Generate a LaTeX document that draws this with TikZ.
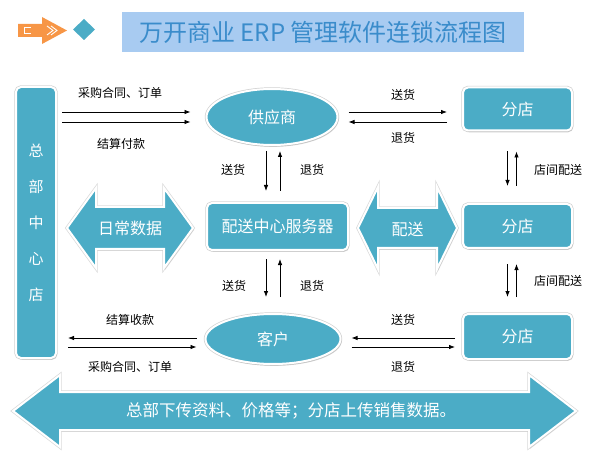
\documentclass[tikz,border=0pt]{standalone}
\usepackage{fontspec}
\setmainfont{Noto Sans CJK SC}
\usepackage{tikz}
\usetikzlibrary{calc,positioning,arrows.meta,shadows,shapes.geometric}
\definecolor{wkteal}{HTML}{4BACC6}
\definecolor{wkorange}{HTML}{F79646}
\definecolor{wksky}{HTML}{A8CBF1}
\definecolor{wkblue}{HTML}{3A8CCB}
\newcommand\wkdarrow[6]{\path[darr] (#1-#3,#2) -- (#1-#3+#4,#2-#5) -- (#1-#3+#4,#2-#6) -- (#1+#3-#4,#2-#6) -- (#1+#3-#4,#2-#5) -- (#1+#3,#2) -- (#1+#3-#4,#2+#5) -- (#1+#3-#4,#2+#6) -- (#1-#3+#4,#2+#6) -- (#1-#3+#4,#2+#5) -- cycle;}

\begin{document}
\begin{tikzpicture}[x=1pt,y=-1pt,
  box/.style={draw=white,line width=2pt,fill=wkteal,rounded corners=5pt,inner sep=0pt,text=white,
  font=\fontsize{16}{18}\selectfont,preaction={draw=black!18,line width=3.4pt},
  drop shadow={shadow xshift=1.2pt,shadow yshift=-1.8pt,fill=black!30}},
  oval/.style={box,ellipse},
  darr/.style={draw=white,line width=2pt,fill=wkteal,preaction={draw=black!15,line width=3.4pt},
  drop shadow={shadow xshift=1.2pt,shadow yshift=-1.8pt,fill=black!25}},
  btxt/.style={text=white,font=\fontsize{16}{18}\selectfont},
  lbl/.style={font=\fontsize{12}{14}\selectfont,text=black},
  arr/.style={-{Latex[length=6pt,width=4.5pt]},line width=0.8pt}]
\useasboundingbox (0,0) rectangle (589,457);
\fill[wkorange] (18,24) -- (42,24) -- (42,17) -- (67,30.5) -- (42,44) -- (42,37) -- (18,37) -- cycle;
\draw[white,line width=1.3pt] (31,27.5) -- (24.5,27.5) -- (24.5,33.5) -- (31,33.5);\draw[white,line width=0.9pt] (47,26) -- (53,30.5) -- (47,35) (51,26) -- (57,30.5) -- (51,35);
\fill[wkteal] (84,19) -- (95,29.5) -- (84,40) -- (73,29.5) -- cycle;
\node[fill=wksky,minimum width=402,minimum height=40,inner sep=0pt,text=wkblue,font=\fontsize{24}{26}\selectfont] (ttl) at (323,32) {万开商业 ERP 管理软件连锁流程图};
\node[box,minimum width=40,minimum height=271,align=center,font=\fontsize{15}{36}\selectfont] (hq) at (36,222.5) {总\\部\\中\\心\\店};
\node[oval,minimum width=131,minimum height=56] (sup) at (272,117) {供应商};\node[box,minimum width=141,minimum height=47] (dc) at (277.5,226.5) {配送中心服务器};\node[oval,minimum width=135,minimum height=50] (cus) at (273,339) {客户};
\node[box,minimum width=109,minimum height=43] (s1) at (517.5,109) {分店};\node[box,minimum width=109,minimum height=44] (s2) at (517.5,226) {分店};\node[box,minimum width=109,minimum height=45] (s3) at (517.5,336.5) {分店};
\wkdarrow{130}{228}{63}{29}{40}{21}\node[btxt] (daily) at (130,228) {日常数据};
\wkdarrow{407.5}{228}{49.5}{20}{41}{20}\node[btxt] (ship) at (407.5,229) {配送};
\wkdarrow{294.5}{411}{281.5}{47}{36}{19}\node[btxt,font=\fontsize{16.5}{18}\selectfont] (sync) at (291,411) {总部下传资料、价格等；分店上传销售数据。};
\draw[arr] ([yshift=5pt,xshift=5pt]hq.east |- sup.west) -- ([yshift=5pt,xshift=-15pt]sup.west);\draw[arr] ([yshift=-5pt,xshift=5pt]hq.east |- sup.west) -- ([yshift=-5pt,xshift=-15pt]sup.west);
\draw[arr] ([yshift=5pt,xshift=10pt]sup.east) -- ([yshift=5pt,xshift=-15pt]sup.east -| s1.west);\draw[arr] ([yshift=-5pt,xshift=-15pt]sup.east -| s1.west) -- ([yshift=-5pt,xshift=10pt]sup.east);
\draw[arr] ([xshift=-6pt,yshift=-5pt]sup.south) -- ([xshift=-6pt,yshift=11pt]sup.south |- dc.north);\draw[arr] ([xshift=8pt,yshift=11pt]sup.south |- dc.north) -- ([xshift=8pt,yshift=-5pt]sup.south);
\draw[arr] ([xshift=-7pt,yshift=-8pt]cus.north |- dc.south) -- ([xshift=-7pt,yshift=16pt]cus.north);\draw[arr] ([xshift=7pt,yshift=16pt]cus.north) -- ([xshift=7pt,yshift=-8pt]cus.north |- dc.south);
\draw[arr] ([yshift=1pt,xshift=-8pt]cus.west) -- ([yshift=1pt,xshift=11pt]cus.west -| hq.east);\draw[arr] ([yshift=-8pt,xshift=11pt]cus.west -| hq.east) -- ([yshift=-8pt,xshift=-8pt]cus.west);
\draw[arr] ([yshift=1pt,xshift=-7pt]cus.east -| s3.west) -- ([yshift=1pt,xshift=10pt]cus.east);\draw[arr] ([yshift=-8pt,xshift=10pt]cus.east) -- ([yshift=-8pt,xshift=-7pt]cus.east -| s3.west);
\draw[arr] ([xshift=-10pt,yshift=-20pt]s1.south) -- ([xshift=-10pt,yshift=17pt]s2.north);\draw[arr] ([xshift=-1pt,yshift=17pt]s2.north) -- ([xshift=-1pt,yshift=-20pt]s1.south);
\draw[arr] ([xshift=-10pt,yshift=-15pt]s2.south) -- ([xshift=-10pt,yshift=16pt]s3.north);\draw[arr] ([xshift=-1pt,yshift=16pt]s3.north) -- ([xshift=-1pt,yshift=-15pt]s2.south);
\node[lbl] (l1) at (120,93) {采购合同、订单};\node[lbl] (l2) at (121,144) {结算付款};\node[lbl] (l3) at (403,95) {送货};\node[lbl] (l4) at (403,138) {退货};
\node[lbl] (l5) at (233,170) {送货};\node[lbl] (l6) at (312,170) {退货};\node[lbl] (l7) at (558,170) {店间配送};
\node[lbl] (l8) at (234,286) {送货};\node[lbl] (l9) at (312,286) {退货};\node[lbl] (l10) at (558,281) {店间配送};
\node[lbl] (l11) at (130,320) {结算收款};\node[lbl] (l12) at (130,367) {采购合同、订单};\node[lbl] (l13) at (403,320) {送货};\node[lbl] (l14) at (403,367) {退货};
\end{tikzpicture}
\end{document}
